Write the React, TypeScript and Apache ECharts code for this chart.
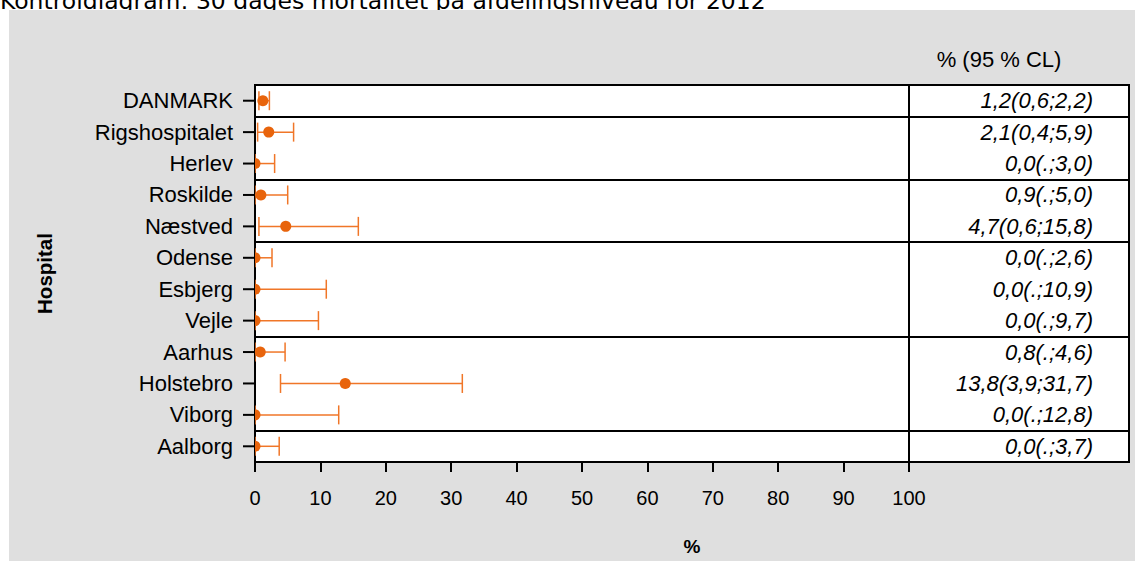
import React, { useEffect, useRef } from "react";
import * as echarts from "echarts";

const hospitals = [
  "DANMARK",
  "Rigshospitalet",
  "Herlev",
  "Roskilde",
  "Næstved",
  "Odense",
  "Esbjerg",
  "Vejle",
  "Aarhus",
  "Holstebro",
  "Viborg",
  "Aalborg",
];
const regions = [
  "Danmark",
  "Hovedstaden",
  "Hovedstaden",
  "Sjælland",
  "Sjælland",
  "Syddanmark",
  "Syddanmark",
  "Syddanmark",
  "Midtjylland",
  "Midtjylland",
  "Midtjylland",
  "Nordjylland",
];
const estimates = [1.2, 2.1, 0.0, 0.9, 4.7, 0.0, 0.0, 0.0, 0.8, 13.8, 0.0, 0.0];
const lowerCL: (number | null)[] = [0.6, 0.4, null, null, 0.6, null, null, null, null, 3.9, null, null];
const upperCL = [2.2, 5.9, 3.0, 5.0, 15.8, 2.6, 10.9, 9.7, 4.6, 31.7, 12.8, 3.7];

const titleText = "Kontroldiagram: 30 dages mortalitet på afdelingsniveau for 2012";
const tableHeader = "% (95 % CL)";
const xName = "%";
const yName = "Hospital";

const fmt = (v: number) => v.toFixed(1).replace(".", ",");
const tableText = hospitals.map(
  (_, i) =>
    `${fmt(estimates[i])}(${lowerCL[i] == null ? "." : fmt(lowerCL[i] as number)};${fmt(upperCL[i])})`
);

const LINE = "#F07628";
const DOT = "#E8640C";
const FONT = "'Liberation Sans', Arial, sans-serif";

export default function App() {
  const ref = useRef<HTMLDivElement>(null);
  useEffect(() => {
    if (!ref.current) return;
    const chart = echarts.init(ref.current, undefined, { renderer: "svg" });
    const splitInterval = (idx: number) => idx > 0 && idx < hospitals.length && regions[idx] !== regions[idx - 1];
    const option: any = {
      animation: false,
      textStyle: { fontFamily: FONT },
      graphic: [
        {
          type: "text",
          z: -2,
          x: 0,
          y: 1,
          style: {
            text: titleText,
            fontFamily: "'DejaVu Sans', Verdana, sans-serif",
            fontSize: 23.5,
            fill: "#000",
            align: "left",
            verticalAlign: "middle",
          },
        },
        {
          type: "rect",
          z: -1,
          shape: { x: 9, y: 10, width: 1126, height: 551 },
          style: { fill: "#dfdfdf" },
        },
        {
          type: "text",
          x: 999,
          y: 59,
          style: {
            text: tableHeader,
            fontFamily: FONT,
            fontSize: 22,
            fill: "#000",
            align: "center",
            verticalAlign: "middle",
          },
        },
        {
          type: "text",
          x: 692,
          y: 546,
          style: {
            text: xName,
            fontFamily: FONT,
            fontSize: 19,
            fontWeight: "bold",
            fill: "#000",
            align: "center",
            verticalAlign: "middle",
          },
        },
      ],
      grid: [
        {
          left: 255,
          top: 85,
          width: 654,
          height: 377,
          show: true,
          backgroundColor: "#fff",
          borderColor: "#000",
          borderWidth: 2,
        },
        {
          left: 909,
          top: 85,
          width: 220,
          height: 377,
          show: true,
          backgroundColor: "#fff",
          borderColor: "#000",
          borderWidth: 2,
        },
      ],
      xAxis: [
        {
          type: "value",
          gridIndex: 0,
          min: 0,
          max: 100,
          interval: 10,
          axisLine: { show: true, lineStyle: { color: "#000", width: 2 } },
          axisTick: { show: true, length: 10, lineStyle: { color: "#000", width: 2 } },
          axisLabel: { fontSize: 20, color: "#000", margin: 26, fontFamily: FONT },
          splitLine: { show: false },
        },
        { type: "value", gridIndex: 1, min: 0, max: 1, show: false },
      ],
      yAxis: [
        {
          type: "category",
          gridIndex: 0,
          data: hospitals,
          inverse: true,
          name: yName,
          nameLocation: "middle",
          nameRotate: 90,
          nameGap: 200,
          nameTextStyle: { fontSize: 20.5, fontWeight: "bold", color: "#000", fontFamily: FONT },
          axisLine: { show: true, lineStyle: { color: "#000", width: 2 } },
          axisTick: { show: false },
          axisLabel: { fontSize: 22, color: "#000", margin: 22, interval: 0, fontFamily: FONT },
          splitLine: { show: true, interval: splitInterval, lineStyle: { color: "#000", width: 2 } },
        },
        {
          type: "category",
          gridIndex: 1,
          data: hospitals,
          inverse: true,
          position: "right",
          axisLine: { show: false },
          axisTick: { show: false },
          axisLabel: {
            inside: true,
            margin: 36,
            interval: 0,
            fontSize: 22,
            fontStyle: "italic",
            color: "#000",
            fontFamily: FONT,
            formatter: (_v: string, i: number) => tableText[i],
          },
          splitLine: { show: true, interval: splitInterval, lineStyle: { color: "#000", width: 2 } },
        },
      ],
      series: [
        {
          // category tick marks on the left axis
          type: "custom",
          xAxisIndex: 0,
          yAxisIndex: 0,
          clip: false,
          silent: true,
          z: 5,
          encode: { y: 0 },
          data: hospitals.map((_, i) => [i]),
          renderItem: (_params: any, api: any) => {
            const p = api.coord([0, api.value(0)]);
            return {
              type: "line",
              shape: { x1: p[0] - 12, y1: p[1], x2: p[0], y2: p[1] },
              style: { stroke: "#000", lineWidth: 2 },
            };
          },
        },
        {
          type: "custom",
          xAxisIndex: 0,
          yAxisIndex: 0,
          clip: true,
          encode: { x: [1, 2, 3], y: 0 },
          data: hospitals.map((_, i) => [i, estimates[i], lowerCL[i] ?? 0, upperCL[i]]),
          renderItem: (_params: any, api: any) => {
            const cat = api.value(0);
            const pE = api.coord([api.value(1), cat]);
            const pLo = api.coord([api.value(2), cat]);
            const pHi = api.coord([api.value(3), cat]);
            const h = 9.5;
            const ls = { stroke: LINE, lineWidth: 1.5 };
            return {
              type: "group",
              children: [
                { type: "line", shape: { x1: pLo[0], y1: pLo[1], x2: pHi[0], y2: pHi[1] }, style: ls },
                { type: "line", shape: { x1: pLo[0], y1: pLo[1] - h, x2: pLo[0], y2: pLo[1] + h }, style: ls },
                { type: "line", shape: { x1: pHi[0], y1: pHi[1] - h, x2: pHi[0], y2: pHi[1] + h }, style: ls },
                { type: "circle", shape: { cx: pE[0], cy: pE[1], r: 5.5 }, style: { fill: DOT } },
              ],
            };
          },
        },
      ],
    };
    chart.setOption(option);
    return () => chart.dispose();
  }, []);
  return (
    <div
      ref={ref}
      style={{ position: "fixed", left: 0, top: 0, width: 1135, height: 561, background: "#fff" }}
    />
  );
}
